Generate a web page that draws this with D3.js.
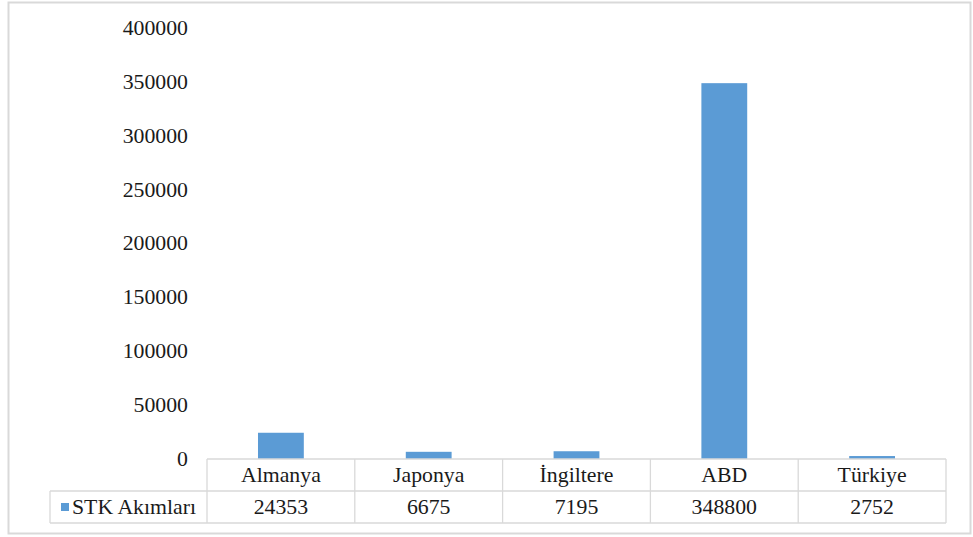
<!DOCTYPE html>
<html>
<head>
<meta charset="utf-8">
<script src="https://cdn.jsdelivr.net/npm/d3@7"></script>
<style>
  html, body { margin: 0; padding: 0; background: #fff; }
  svg { display: block; }
  svg text { font-family: 'Liberation Serif', 'Times New Roman', Tinos, 'DejaVu Serif', serif; fill: #1a1a1a; }
</style>
</head>
<body>
<svg id="chart" width="973" height="537"></svg>
<script>
// Data
const categories = ["Almanya", "Japonya", "İngiltere", "ABD", "Türkiye"];
const seriesName = "STK Akımları";
const values = [24353, 6675, 7195, 348800, 2752];
const yTicks = [0, 50000, 100000, 150000, 200000, 250000, 300000, 350000, 400000];

const FONT = "'Liberation Serif', 'Times New Roman', Tinos, 'DejaVu Serif', serif";
const FS = 20;
const svg = d3.select("#chart");

// outer frame
svg.append("rect")
  .attr("x", 8.5).attr("y", 2.5)
  .attr("width", 962).attr("height", 531)
  .attr("fill", "#fff")
  .attr("stroke", "#d9d9d9").attr("stroke-width", 2);

const plot = { left: 207, right: 946, top: 28, bottom: 459 };

const x = d3.scaleBand()
  .domain(categories)
  .range([plot.left, plot.right])
  .paddingInner(0.69).paddingOuter(0.345);

const y = d3.scaleLinear()
  .domain([0, 400000])
  .range([plot.bottom, plot.top]);

// stretch text slightly wider than the face's natural width
function widen(sel, cx) {
  sel.attr("transform", function () {
    const px = cx(d3.select(this));
    return `translate(${px},0) scale(1.09,1) translate(${-px},0)`;
  });
}

// y axis (labels only)
const yAxis = d3.axisLeft(y).tickValues(yTicks).tickSize(0).tickPadding(0).tickFormat(d3.format("d"));
const gy = svg.append("g").attr("transform", `translate(188,0)`).call(yAxis);
gy.select(".domain").remove();
gy.attr("font-family", FONT).attr("font-size", FS);
gy.selectAll("text")
  .attr("fill", "#1a1a1a")
  .attr("dy", "0.32em")
  .attr("transform", "scale(1.09,1)");

// bars
svg.append("g").selectAll("rect")
  .data(categories)
  .join("rect")
  .attr("x", d => x(d))
  .attr("width", x.bandwidth())
  .attr("y", (d, i) => y(values[i]))
  .attr("height", (d, i) => y(0) - y(values[i]))
  .attr("fill", "#5b9bd5");

// data table
const rowH = 32;
const colW = (plot.right - plot.left) / categories.length;
const col = d3.scaleBand().domain(categories).range([plot.left, plot.right]);
const grid = svg.append("g").attr("stroke", "#d9d9d9").attr("stroke-width", 1.3).attr("fill", "none");

grid.append("line").attr("x1", plot.left).attr("x2", plot.right).attr("y1", plot.bottom).attr("y2", plot.bottom);
grid.append("line").attr("x1", 50).attr("x2", plot.right).attr("y1", plot.bottom + rowH).attr("y2", plot.bottom + rowH);
grid.append("line").attr("x1", 50).attr("x2", plot.right).attr("y1", plot.bottom + 2 * rowH).attr("y2", plot.bottom + 2 * rowH);
grid.append("line").attr("x1", 50).attr("x2", 50).attr("y1", plot.bottom + rowH).attr("y2", plot.bottom + 2 * rowH);
d3.range(categories.length + 1).forEach(i => {
  const xx = plot.left + i * colW;
  grid.append("line").attr("x1", xx).attr("x2", xx).attr("y1", plot.bottom).attr("y2", plot.bottom + 2 * rowH);
});

const tbl = svg.append("g").attr("font-family", FONT).attr("font-size", FS);

// category row
tbl.append("g").selectAll("text")
  .data(categories)
  .join("text")
  .attr("x", d => col(d) + col.bandwidth() / 2)
  .attr("y", plot.bottom + rowH / 2)
  .attr("dy", "0.35em")
  .attr("text-anchor", "middle")
  .text(d => d)
  .call(widen, t => +t.attr("x"));

// values row
tbl.append("g").selectAll("text")
  .data(values)
  .join("text")
  .attr("x", (d, i) => col(categories[i]) + col.bandwidth() / 2)
  .attr("y", plot.bottom + rowH * 1.5)
  .attr("dy", "0.35em")
  .attr("text-anchor", "middle")
  .text(d => d)
  .call(widen, t => +t.attr("x"));

// series key in the table
svg.append("rect")
  .attr("x", 61).attr("y", plot.bottom + rowH * 1.5 - 4)
  .attr("width", 8).attr("height", 8)
  .attr("fill", "#5b9bd5");
tbl.append("text")
  .attr("x", 72).attr("y", plot.bottom + rowH * 1.5)
  .attr("dy", "0.35em")
  .text(seriesName)
  .call(widen, t => +t.attr("x"));
</script>
</body>
</html>
